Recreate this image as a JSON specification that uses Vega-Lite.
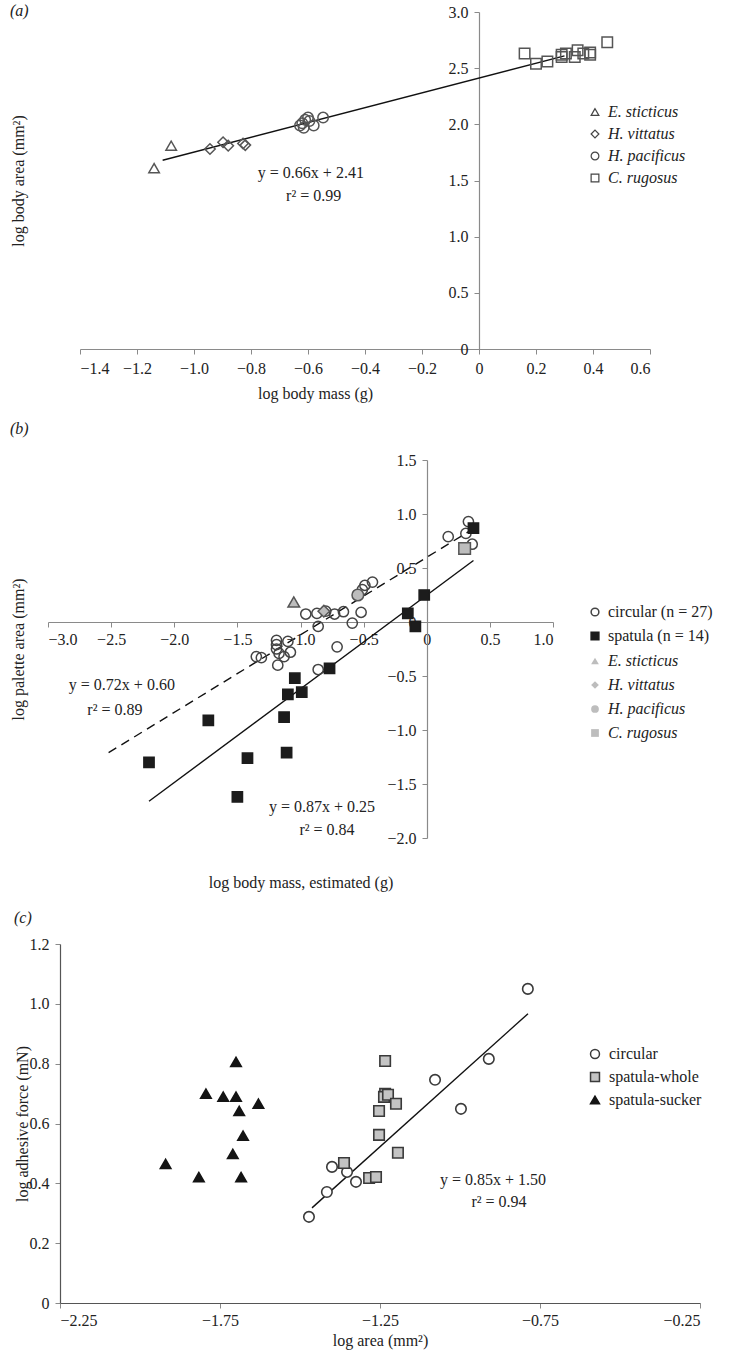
{
"$schema": "https://vega.github.io/schema/vega-lite/v6.json",
"background": "white",
"padding": {"left": 10, "top": 3, "right": 5, "bottom": 5},
"spacing": 20,
"config": {
  "font": "Liberation Serif",
  "view": {"stroke": null},
  "axis": {"grid": false, "labelFont": "Liberation Serif", "labelFontSize": 16, "labelColor": "#222", "titleFont": "Liberation Serif", "titleFontSize": 16, "titleFontWeight": "normal", "titleColor": "#222", "domainColor": "#8a8a8a", "tickColor": "#8a8a8a", "tickSize": 5, "domainWidth": 1.2},
  "legend": {"labelFont": "Liberation Serif", "labelFontSize": 16, "labelColor": "#222"},
  "title": {"font": "Liberation Serif", "fontSize": 16, "fontWeight": "normal", "color": "#222"},
  "text": {"font": "Liberation Serif", "fontSize": 16, "color": "#222"}
},
"resolve": {"scale": {"shape": "independent", "fill": "independent", "stroke": "independent", "size": "independent"}},
"vconcat": [
{
  "width": 602, "height": 337,
  "title": {"text": "(a)", "fontStyle": "italic", "frame": "bounds", "anchor": "start", "offset": -15},
  "layer": [
    {"data": {"values": [{"x": -1.11, "y": 1.68}, {"x": 0.30, "y": 2.61}]},
     "mark": {"type": "line", "color": "#111", "strokeWidth": 1.4},
     "encoding": {
      "x": {"field": "x", "type": "quantitative", "scale": {"domain": [-1.4, 0.6], "range": [32, 602], "nice": false, "zero": false},
        "axis": {"values": [-1.4, -1.2, -1.0, -0.8, -0.6, -0.4, -0.2, 0, 0.2, 0.4, 0.6], "labelExpr": "datum.value === 0 ? '0' : format(datum.value, '.1f')", "title": "log body mass (g)", "labelPadding": 6, "titleX": 267, "titleY": 44, "titleBaseline": "middle"}},
      "y": {"field": "y", "type": "quantitative", "scale": {"domain": [0, 3], "nice": false, "zero": false},
        "axis": {"values": [0, 0.5, 1, 1.5, 2, 2.5, 3], "labelExpr": "datum.value === 0 ? '0' : format(datum.value, '.1f')", "offset": -431, "title": "log body area (mm²)", "titleX": -461, "titleBaseline": "middle", "labelPadding": 6}}
     }},
    {"data": {"values": [
      {"species": "E. sticticus", "x": -1.14, "y": 1.61},
      {"species": "E. sticticus", "x": -1.08, "y": 1.81},
      {"species": "H. vittatus", "x": -0.944, "y": 1.78},
      {"species": "H. vittatus", "x": -0.898, "y": 1.84},
      {"species": "H. vittatus", "x": -0.88, "y": 1.81},
      {"species": "H. vittatus", "x": -0.828, "y": 1.83},
      {"species": "H. vittatus", "x": -0.82, "y": 1.815},
      {"species": "H. pacificus", "x": -0.628, "y": 1.99},
      {"species": "H. pacificus", "x": -0.62, "y": 2.01},
      {"species": "H. pacificus", "x": -0.61, "y": 2.04},
      {"species": "H. pacificus", "x": -0.60, "y": 2.06},
      {"species": "H. pacificus", "x": -0.595, "y": 2.03},
      {"species": "H. pacificus", "x": -0.615, "y": 1.97},
      {"species": "H. pacificus", "x": -0.58, "y": 1.99},
      {"species": "H. pacificus", "x": -0.547, "y": 2.06},
      {"species": "C. rugosus", "x": 0.16, "y": 2.63},
      {"species": "C. rugosus", "x": 0.20, "y": 2.54},
      {"species": "C. rugosus", "x": 0.24, "y": 2.56},
      {"species": "C. rugosus", "x": 0.29, "y": 2.60},
      {"species": "C. rugosus", "x": 0.29, "y": 2.62},
      {"species": "C. rugosus", "x": 0.305, "y": 2.63},
      {"species": "C. rugosus", "x": 0.336, "y": 2.60},
      {"species": "C. rugosus", "x": 0.346, "y": 2.66},
      {"species": "C. rugosus", "x": 0.366, "y": 2.63},
      {"species": "C. rugosus", "x": 0.39, "y": 2.64},
      {"species": "C. rugosus", "x": 0.39, "y": 2.62},
      {"species": "C. rugosus", "x": 0.45, "y": 2.73}
    ]},
     "mark": {"type": "point", "filled": false, "size": 110, "strokeWidth": 1.5, "color": "#555", "opacity": 1},
     "encoding": {
       "x": {"field": "x", "type": "quantitative"},
       "y": {"field": "y", "type": "quantitative"},
       "shape": {"field": "species", "type": "nominal",
        "scale": {"domain": ["E. sticticus", "H. vittatus", "H. pacificus", "C. rugosus"], "range": ["triangle-up", "diamond", "circle", "square"]},
        "legend": {"orient": "none", "legendX": 539, "legendY": 92, "title": null, "labelFontStyle": "italic", "symbolSize": 60, "symbolStrokeWidth": 1.2, "symbolStrokeColor": "#444", "rowPadding": 6, "labelOffset": 5, "padding": 0}}}},
    {"data": {"values": [{"label": "y = 0.66x + 2.41"}]},
     "mark": {"type": "text", "align": "center", "baseline": "middle"},
     "encoding": {"x": {"datum": -0.59}, "y": {"datum": 1.57}, "text": {"field": "label"}}},
    {"data": {"values": [{"label": "r² = 0.99"}]},
     "mark": {"type": "text", "align": "center", "baseline": "middle"},
     "encoding": {"x": {"datum": -0.58}, "y": {"datum": 1.36}, "text": {"field": "label"}}}
  ]
},
{
  "width": 505, "height": 378,
  "title": {"text": "(b)", "fontStyle": "italic", "frame": "bounds", "anchor": "start", "offset": 15},
  "layer": [
    {"data": {"values": [{"x": -2.52, "y": -1.21}, {"x": 0.35, "y": 0.85}]},
     "mark": {"type": "line", "color": "#111", "strokeWidth": 1.4, "strokeDash": [9, 6]},
     "encoding": {
      "x": {"field": "x", "type": "quantitative", "scale": {"domain": [-3, 1], "nice": false, "zero": false},
        "axis": {"values": [-3, -2.5, -2, -1.5, -1, -0.5, 0, 0.5, 1], "labelExpr": "datum.value === 0 ? '0' : format(datum.value, '.1f')", "offset": -216, "title": "log body mass, estimated (g)", "titleY": 260, "titleBaseline": "middle", "labelPadding": 4}},
      "y": {"field": "y", "type": "quantitative", "scale": {"domain": [-2, 1.5], "nice": false, "zero": false},
        "axis": {"values": [-2, -1.5, -1, -0.5, 0, 0.5, 1, 1.5], "labelExpr": "datum.value === 0 ? '0' : format(datum.value, '.1f')", "offset": -379, "title": "log palette area (mm²)", "titleX": -409, "titleBaseline": "middle", "labelPadding": 6}}
     }},
    {"data": {"values": [{"x": -2.20, "y": -1.66}, {"x": 0.37, "y": 0.57}]},
     "mark": {"type": "line", "color": "#111", "strokeWidth": 1.4},
     "encoding": {"x": {"field": "x", "type": "quantitative"}, "y": {"field": "y", "type": "quantitative"}}},
    {"data": {"values": [
      {"group": "circular (n = 27)", "x": -0.958, "y": 0.074},
      {"group": "circular (n = 27)", "x": -0.87, "y": 0.08},
      {"group": "circular (n = 27)", "x": -0.73, "y": 0.074},
      {"group": "circular (n = 27)", "x": -0.66, "y": 0.095},
      {"group": "circular (n = 27)", "x": -0.52, "y": 0.09},
      {"group": "circular (n = 27)", "x": -0.59, "y": -0.01},
      {"group": "circular (n = 27)", "x": -0.86, "y": -0.04},
      {"group": "circular (n = 27)", "x": -0.71, "y": -0.23},
      {"group": "circular (n = 27)", "x": -0.86, "y": -0.44},
      {"group": "circular (n = 27)", "x": -0.49, "y": 0.34},
      {"group": "circular (n = 27)", "x": -0.43, "y": 0.37},
      {"group": "circular (n = 27)", "x": -0.51, "y": 0.30},
      {"group": "circular (n = 27)", "x": -1.19, "y": -0.17},
      {"group": "circular (n = 27)", "x": -1.10, "y": -0.18},
      {"group": "circular (n = 27)", "x": -1.19, "y": -0.25},
      {"group": "circular (n = 27)", "x": -1.17, "y": -0.29},
      {"group": "circular (n = 27)", "x": -1.08, "y": -0.28},
      {"group": "circular (n = 27)", "x": -1.13, "y": -0.32},
      {"group": "circular (n = 27)", "x": -1.18, "y": -0.40},
      {"group": "circular (n = 27)", "x": -1.35, "y": -0.32},
      {"group": "circular (n = 27)", "x": -1.31, "y": -0.33},
      {"group": "circular (n = 27)", "x": 0.17, "y": 0.79},
      {"group": "circular (n = 27)", "x": 0.31, "y": 0.82},
      {"group": "circular (n = 27)", "x": 0.33, "y": 0.93},
      {"group": "circular (n = 27)", "x": 0.36, "y": 0.72},
      {"group": "circular (n = 27)", "x": -0.80, "y": 0.10},
      {"group": "circular (n = 27)", "x": -1.19, "y": -0.21},
      {"group": "spatula (n = 14)", "x": -0.15, "y": 0.08},
      {"group": "spatula (n = 14)", "x": -0.09, "y": -0.04},
      {"group": "spatula (n = 14)", "x": -0.02, "y": 0.25},
      {"group": "spatula (n = 14)", "x": -0.77, "y": -0.43},
      {"group": "spatula (n = 14)", "x": -1.045, "y": -0.52},
      {"group": "spatula (n = 14)", "x": -1.10, "y": -0.67},
      {"group": "spatula (n = 14)", "x": -0.99, "y": -0.65},
      {"group": "spatula (n = 14)", "x": -1.73, "y": -0.91},
      {"group": "spatula (n = 14)", "x": -1.13, "y": -0.88},
      {"group": "spatula (n = 14)", "x": -2.20, "y": -1.30},
      {"group": "spatula (n = 14)", "x": -1.42, "y": -1.26},
      {"group": "spatula (n = 14)", "x": -1.11, "y": -1.21},
      {"group": "spatula (n = 14)", "x": -1.50, "y": -1.62},
      {"group": "spatula (n = 14)", "x": 0.37, "y": 0.87}
    ]},
     "mark": {"type": "point", "filled": true, "size": 105, "strokeWidth": 1.5, "opacity": 1},
     "encoding": {
       "x": {"field": "x", "type": "quantitative"},
       "y": {"field": "y", "type": "quantitative"},
       "shape": {"field": "group", "type": "nominal", "scale": {"domain": ["circular (n = 27)", "spatula (n = 14)"], "range": ["circle", "square"]},
         "legend": {"orient": "none", "legendX": 539, "legendY": 144, "title": null, "symbolSize": 60, "rowPadding": 8, "labelOffset": 5, "padding": 0}},
       "fill": {"field": "group", "type": "nominal", "scale": {"domain": ["circular (n = 27)", "spatula (n = 14)"], "range": ["transparent", "#1c1c1c"]},
         "legend": {"orient": "none", "legendX": 539, "legendY": 144, "title": null, "symbolSize": 60, "rowPadding": 8, "labelOffset": 5, "padding": 0}},
       "stroke": {"field": "group", "type": "nominal", "scale": {"domain": ["circular (n = 27)", "spatula (n = 14)"], "range": ["#444", "#1c1c1c"]},
         "legend": {"orient": "none", "legendX": 539, "legendY": 144, "title": null, "symbolSize": 60, "rowPadding": 8, "labelOffset": 5, "padding": 0}}
     }},
    {"data": {"values": [
      {"species": "E. sticticus", "x": -1.053, "y": 0.185},
      {"species": "H. vittatus", "x": -0.815, "y": 0.10},
      {"species": "H. pacificus", "x": -0.546, "y": 0.25},
      {"species": "C. rugosus", "x": 0.30, "y": 0.68}
    ]},
     "mark": {"type": "point", "filled": true, "size": 135, "strokeWidth": 1.5, "fill": "#bdbdbd", "stroke": "#555", "opacity": 1},
     "encoding": {
       "x": {"field": "x", "type": "quantitative"},
       "y": {"field": "y", "type": "quantitative"},
       "shape": {"field": "species", "type": "nominal", "scale": {"domain": ["E. sticticus", "H. vittatus", "H. pacificus", "C. rugosus"], "range": ["triangle-up", "diamond", "circle", "square"]},
         "legend": {"orient": "none", "legendX": 539, "legendY": 193, "title": null, "labelFontStyle": "italic", "symbolSize": 60, "symbolFillColor": "#bdbdbd", "symbolStrokeColor": "#555", "symbolStrokeWidth": 1.2, "rowPadding": 8, "labelOffset": 5, "padding": 0}}
     }},
    {"data": {"values": [{"label": "y = 0.72x + 0.60"}]},
     "mark": {"type": "text", "align": "center", "baseline": "middle"},
     "encoding": {"x": {"datum": -2.415}, "y": {"datum": -0.583}, "text": {"field": "label"}}},
    {"data": {"values": [{"label": "r² = 0.89"}]},
     "mark": {"type": "text", "align": "center", "baseline": "middle"},
     "encoding": {"x": {"datum": -2.47}, "y": {"datum": -0.815}, "text": {"field": "label"}}},
    {"data": {"values": [{"label": "y = 0.87x + 0.25"}]},
     "mark": {"type": "text", "align": "center", "baseline": "middle"},
     "encoding": {"x": {"datum": -0.83}, "y": {"datum": -1.71}, "text": {"field": "label"}}},
    {"data": {"values": [{"label": "r² = 0.84"}]},
     "mark": {"type": "text", "align": "center", "baseline": "middle"},
     "encoding": {"x": {"datum": -0.79}, "y": {"datum": -1.93}, "text": {"field": "label"}}}
  ],
  "resolve": {"scale": {"shape": "independent", "fill": "independent", "stroke": "independent"}}
},
{
  "width": 652, "height": 359,
  "title": {"text": "(c)", "fontStyle": "italic", "frame": "bounds", "anchor": "start", "offset": 10},
  "layer": [
    {"data": {"values": [{"x": -1.4625, "y": 0.318}, {"x": -0.7875, "y": 0.967}]},
     "mark": {"type": "line", "color": "#111", "strokeWidth": 1.4},
     "encoding": {
      "x": {"field": "x", "type": "quantitative", "scale": {"domain": [-2.25, -0.25], "range": [12, 652], "nice": false, "zero": false},
        "axis": {"values": [-2.25, -1.75, -1.25, -0.75, -0.25], "format": ".2f", "title": "log area (mm²)", "labelPadding": 4, "titlePadding": 4, "domainColor": "#555"}},
      "y": {"field": "y", "type": "quantitative", "scale": {"domain": [0, 1.2], "nice": false, "zero": false},
        "axis": {"values": [0, 0.2, 0.4, 0.6, 0.8, 1.0, 1.2], "labelExpr": "datum.value === 0 ? '0' : format(datum.value, '.1f')", "offset": -12, "title": "log adhesive force (mN)", "titleX": -38, "titleBaseline": "middle", "labelPadding": 6, "domainColor": "#555"}}
     }},
    {"data": {"values": [
      {"type": "circular", "x": -1.472, "y": 0.288},
      {"type": "circular", "x": -1.416, "y": 0.371},
      {"type": "circular", "x": -1.40, "y": 0.455},
      {"type": "circular", "x": -1.353, "y": 0.438},
      {"type": "circular", "x": -1.325, "y": 0.405},
      {"type": "circular", "x": -1.078, "y": 0.746},
      {"type": "circular", "x": -0.997, "y": 0.649},
      {"type": "circular", "x": -0.91, "y": 0.816},
      {"type": "circular", "x": -0.788, "y": 1.05},
      {"type": "spatula-whole", "x": -1.234, "y": 0.809},
      {"type": "spatula-whole", "x": -1.234, "y": 0.699},
      {"type": "spatula-whole", "x": -1.2375, "y": 0.689},
      {"type": "spatula-whole", "x": -1.225, "y": 0.696},
      {"type": "spatula-whole", "x": -1.20, "y": 0.666},
      {"type": "spatula-whole", "x": -1.253, "y": 0.642},
      {"type": "spatula-whole", "x": -1.253, "y": 0.562},
      {"type": "spatula-whole", "x": -1.194, "y": 0.502},
      {"type": "spatula-whole", "x": -1.3625, "y": 0.468},
      {"type": "spatula-whole", "x": -1.284, "y": 0.418},
      {"type": "spatula-whole", "x": -1.2625, "y": 0.421},
      {"type": "spatula-sucker", "x": -1.70, "y": 0.806},
      {"type": "spatula-sucker", "x": -1.794, "y": 0.70},
      {"type": "spatula-sucker", "x": -1.74, "y": 0.69},
      {"type": "spatula-sucker", "x": -1.70, "y": 0.69},
      {"type": "spatula-sucker", "x": -1.63, "y": 0.666},
      {"type": "spatula-sucker", "x": -1.69, "y": 0.642},
      {"type": "spatula-sucker", "x": -1.678, "y": 0.559},
      {"type": "spatula-sucker", "x": -1.71, "y": 0.498},
      {"type": "spatula-sucker", "x": -1.92, "y": 0.465},
      {"type": "spatula-sucker", "x": -1.816, "y": 0.421},
      {"type": "spatula-sucker", "x": -1.684, "y": 0.421}
    ]},
     "mark": {"type": "point", "filled": true, "size": 110, "strokeWidth": 1.6, "opacity": 1},
     "encoding": {
       "x": {"field": "x", "type": "quantitative"},
       "y": {"field": "y", "type": "quantitative"},
       "shape": {"field": "type", "type": "nominal", "scale": {"domain": ["circular", "spatula-whole", "spatula-sucker"], "range": ["circle", "square", "triangle-up"]},
         "legend": {"orient": "none", "legendX": 539, "legendY": 102, "title": null, "symbolSize": 80, "rowPadding": 7, "labelOffset": 6, "padding": 0}},
       "fill": {"field": "type", "type": "nominal", "scale": {"domain": ["circular", "spatula-whole", "spatula-sucker"], "range": ["white", "#c4c4c4", "#141414"]},
         "legend": {"orient": "none", "legendX": 539, "legendY": 102, "title": null, "symbolSize": 80, "rowPadding": 7, "labelOffset": 6, "padding": 0}},
       "stroke": {"field": "type", "type": "nominal", "scale": {"domain": ["circular", "spatula-whole", "spatula-sucker"], "range": ["#3a3a3a", "#3a3a3a", "#141414"]},
         "legend": {"orient": "none", "legendX": 539, "legendY": 102, "title": null, "symbolSize": 80, "rowPadding": 7, "labelOffset": 6, "padding": 0}}
     }},
    {"data": {"values": [{"label": "y = 0.85x + 1.50"}]},
     "mark": {"type": "text", "align": "center", "baseline": "middle"},
     "encoding": {"x": {"datum": -0.897}, "y": {"datum": 0.411}, "text": {"field": "label"}}},
    {"data": {"values": [{"label": "r² = 0.94"}]},
     "mark": {"type": "text", "align": "center", "baseline": "middle"},
     "encoding": {"x": {"datum": -0.878}, "y": {"datum": 0.338}, "text": {"field": "label"}}}
  ]
}
]
}
